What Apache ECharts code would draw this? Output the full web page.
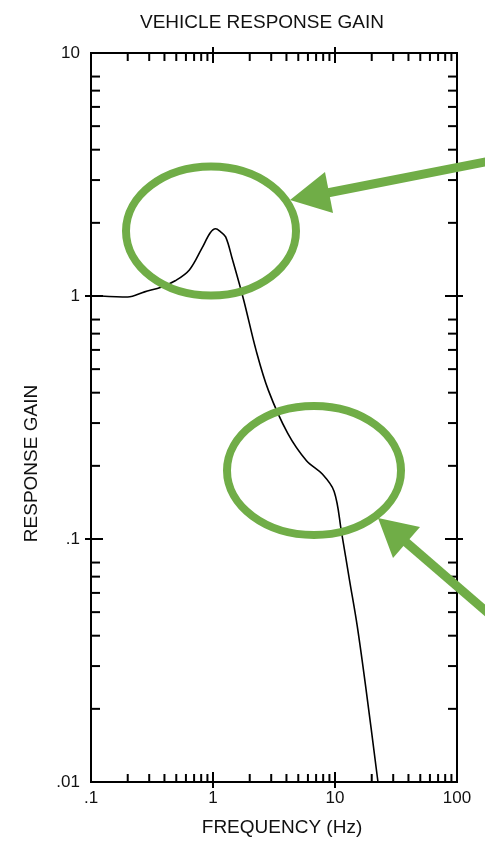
<!DOCTYPE html>
<html>
<head>
<meta charset="utf-8">
<script src="https://cdn.jsdelivr.net/npm/echarts@6/dist/echarts.min.js"></script>
<style>
html,body{margin:0;padding:0;background:#fff;}
#chart{width:485px;height:843px;}
</style>
</head>
<body>
<div id="chart"></div>
<script>
// ---- data ----
const frequencyHz = [0.12, 0.2, 0.275, 0.38, 0.49, 0.64, 0.81, 0.95, 1.05, 1.15, 1.27, 1.44, 1.78, 2.25, 2.84, 4.1, 5.84, 7.87, 9.84, 11.3, 13.2, 15.2, 18.1, 22.5];
const responseGain = [1.0, 0.99, 1.04, 1.09, 1.155, 1.28, 1.57, 1.82, 1.89, 1.84, 1.75, 1.42, 0.968, 0.60, 0.41, 0.272, 0.21, 0.185, 0.157, 0.107, 0.067, 0.044, 0.0234, 0.01];

const xTickLabels = ['.1', '1', '10', '100'];
const yTickLabels = ['.01', '.1', '1', '10'];
const xMinorTicks = [0.2,0.3,0.4,0.5,0.6,0.7,0.8,0.9, 2,3,4,5,6,7,8,9, 20,30,40,50,60,70,80,90];
const xMajorTicks = [1, 10];
const yMinorTicks = [0.02,0.03,0.04,0.05,0.06,0.07,0.08, 0.2,0.3,0.4,0.5,0.6,0.7,0.8, 2,3,4,5,6,7,8];
const yMajorTicks = [0.1, 1];

const titleText = 'VEHICLE RESPONSE GAIN';
const xName = 'FREQUENCY (Hz)';
const yName = 'RESPONSE GAIN';

const X_MIN = 0.1, X_MAX = 100, Y_MIN = 0.01, Y_MAX = 10;
const FONT = 'Liberation Sans, Arial, sans-serif';
const GREEN = '#70AD47';

const curve = frequencyHz.map((f, i) => [f, responseGain[i]]);

function labelFor(v, labels, minExp) {
  const k = Math.round(Math.log10(v)) - minExp;
  return labels[k] !== undefined ? labels[k] : '';
}

// tick data through the axes
const tickData = [];
xMinorTicks.forEach(v => tickData.push([v, Y_MIN, 0]));
xMajorTicks.forEach(v => tickData.push([v, Y_MIN, 1]));
yMinorTicks.forEach(v => tickData.push([X_MIN, v, 2]));
yMajorTicks.forEach(v => tickData.push([X_MIN, v, 3]));

const tickStyle = {stroke: '#000', lineWidth: 2};

function renderTick(params, api) {
  const v0 = api.value(0), v1 = api.value(1), kind = api.value(2);
  const els = [];
  if (kind === 0 || kind === 1) {
    const b = api.coord([v0, Y_MIN]);
    const t = api.coord([v0, Y_MAX]);
    const inLen = kind === 1 ? 10 : 8;
    const outLen = kind === 1 ? 6 : 0;
    els.push({type: 'line', shape: {x1: b[0], y1: b[1] + outLen, x2: b[0], y2: b[1] - inLen}, style: tickStyle});
    els.push({type: 'line', shape: {x1: t[0], y1: t[1] - outLen, x2: t[0], y2: t[1] + inLen}, style: tickStyle});
  } else {
    const l = api.coord([X_MIN, v1]);
    const r = api.coord([X_MAX, v1]);
    const inLen = kind === 3 ? 12 : 9;
    const outLen = kind === 3 ? 6 : 0;
    els.push({type: 'line', shape: {x1: l[0] - outLen, y1: l[1], x2: l[0] + inLen, y2: l[1]}, style: tickStyle});
    els.push({type: 'line', shape: {x1: r[0] + outLen, y1: r[1], x2: r[0] - inLen, y2: r[1]}, style: tickStyle});
  }
  return {type: 'group', children: els};
}

const chart = echarts.init(document.getElementById('chart'), null, {renderer: 'canvas'});
chart.setOption({
  animation: false,
  backgroundColor: '#fff',
  title: {
    text: titleText,
    left: 135,
    top: 8,
    textStyle: {fontFamily: FONT, fontSize: 19, fontWeight: 'normal', color: '#111'}
  },
  grid: {
    left: 91, right: 28, top: 53, bottom: 61,
    show: true, borderColor: '#000', borderWidth: 2, backgroundColor: 'transparent'
  },
  xAxis: {
    type: 'log', logBase: 10, min: X_MIN, max: X_MAX,
    name: xName, nameLocation: 'middle', nameGap: 36,
    nameTextStyle: {fontFamily: FONT, fontSize: 19, color: '#111', padding: [0, 0, 0, 16]},
    axisLine: {show: false}, axisTick: {show: false}, splitLine: {show: false},
    axisLabel: {
      fontFamily: FONT, fontSize: 17, color: '#111', margin: 8,
      formatter: v => labelFor(v, xTickLabels, -1)
    }
  },
  yAxis: {
    type: 'log', logBase: 10, min: Y_MIN, max: Y_MAX,
    name: yName, nameLocation: 'middle', nameGap: 50, nameRotate: 90,
    nameTextStyle: {fontFamily: FONT, fontSize: 19, color: '#111', padding: [0, 92, 0, 0]},
    axisLine: {show: false}, axisTick: {show: false}, splitLine: {show: false},
    axisLabel: {
      fontFamily: FONT, fontSize: 17, color: '#111', margin: 11,
      formatter: v => labelFor(v, yTickLabels, -2)
    }
  },
  series: [
    {
      type: 'custom',
      renderItem: renderTick,
      data: tickData,
      encode: {x: 0, y: 1},
      silent: true,
      clip: false,
      z: 3
    },
    {
      type: 'line',
      data: curve,
      smooth: 0.35,
      showSymbol: false,
      symbol: 'none',
      lineStyle: {color: '#000', width: 1.6},
      z: 4
    }
  ],
  graphic: [
    {type: 'ellipse', shape: {cx: 211, cy: 231, rx: 85, ry: 64.5}, style: {fill: 'none', stroke: GREEN, lineWidth: 8}, z: 100},
    {type: 'ellipse', shape: {cx: 314, cy: 470.5, rx: 87, ry: 64.5}, style: {fill: 'none', stroke: GREEN, lineWidth: 8}, z: 100},
    {type: 'line', shape: {x1: 495, y1: 160, x2: 322, y2: 194}, style: {stroke: GREEN, lineWidth: 9}, z: 100},
    {type: 'polygon', shape: {points: [[290, 200], [325, 172], [333, 213]]}, style: {fill: GREEN}, z: 100},
    {type: 'line', shape: {x1: 495, y1: 619, x2: 400, y2: 537}, style: {stroke: GREEN, lineWidth: 9}, z: 100},
    {type: 'polygon', shape: {points: [[378, 518], [420, 527], [393, 558]]}, style: {fill: GREEN}, z: 100}
  ]
});
</script>
</body>
</html>
